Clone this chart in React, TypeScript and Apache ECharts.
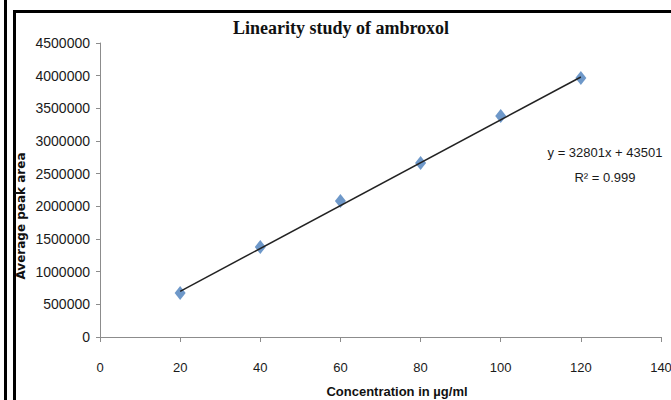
import React, { useEffect, useRef } from "react";
import * as echarts from "echarts";

const concentrations = [20, 40, 60, 80, 100, 120];
const peakAreas = [673000, 1378000, 2082000, 2663000, 3383000, 3964000];
const trendX = [20, 120];
const trendY = [699521, 3979621];
const titleText = "Linearity study of ambroxol";
const xAxisTitle = "Concentration in µg/ml";
const yAxisTitle = "Average peak area";
const equationText = "y = 32801x + 43501";
const r2Text = "R² = 0.999";

export default function App() {
  const ref = useRef<HTMLDivElement>(null);
  useEffect(() => {
    if (!ref.current) return;
    const chart = echarts.init(ref.current, null, { renderer: "svg" });
    chart.setOption({
      animation: false,
      backgroundColor: "#ffffff",
      title: {
        text: titleText,
        left: 336,
        top: 14,
        textAlign: "center",
        textStyle: {
          fontFamily: "Liberation Serif",
          fontWeight: "bold",
          fontSize: 18,
          color: "#111",
        },
      },
      grid: {
        left: 100,
        right: 10,
        top: 43,
        bottom: 63,
        containLabel: false,
        outerBoundsMode: "none",
      },
      xAxis: {
        type: "value",
        min: 0,
        max: 140,
        interval: 20,
        axisLine: { lineStyle: { color: "#8c8c8c", width: 1 } },
        axisTick: { show: true, length: 5, lineStyle: { color: "#8c8c8c" } },
        axisLabel: {
          margin: 24,
          fontFamily: "Liberation Sans",
          fontSize: 13,
          color: "#1a1a1a",
          showMaxLabel: true,
        },
        splitLine: { show: false },
      },
      yAxis: {
        type: "value",
        min: 0,
        max: 4500000,
        interval: 500000,
        axisLine: { show: true, lineStyle: { color: "#8c8c8c", width: 1 } },
        axisTick: { show: true, length: 4, lineStyle: { color: "#8c8c8c" } },
        axisLabel: {
          margin: 10,
          fontFamily: "Liberation Sans",
          fontSize: 14,
          color: "#1a1a1a",
          formatter: (v: number) => String(v),
        },
        splitLine: { show: false },
      },
      series: [
        {
          type: "line",
          data: trendX.map((x, i) => [x, trendY[i]]),
          symbol: "none",
          lineStyle: { color: "#222", width: 1.5 },
          silent: true,
          z: 3,
        },
        {
          type: "scatter",
          data: concentrations.map((x, i) => [x, peakAreas[i]]),
          symbol: "diamond",
          symbolSize: [11, 14],
          itemStyle: { color: "#4a7ebb" },
          z: 2,
        },
      ],
      graphic: [
        {
          type: "rect",
          shape: { x: 4, y: 0, width: 3, height: 400 },
          style: { fill: "#000" },
        },
        {
          type: "rect",
          shape: { x: 13, y: 10, width: 3, height: 390 },
          style: { fill: "#000" },
        },
        {
          type: "rect",
          shape: { x: 13, y: 10, width: 658, height: 3 },
          style: { fill: "#000" },
        },
        {
          type: "text",
          x: 397,
          y: 391,
          style: {
            text: xAxisTitle,
            fontFamily: "Liberation Sans",
            fontWeight: "bold",
            fontSize: 13,
            fill: "#111",
            align: "center",
            verticalAlign: "middle",
          },
        },
        {
          type: "text",
          x: 21,
          y: 216,
          rotation: Math.PI / 2,
          style: {
            text: yAxisTitle,
            fontFamily: "DejaVu Sans",
            fontWeight: "bold",
            fontSize: 12,
            fill: "#111",
            align: "center",
            verticalAlign: "middle",
          },
        },
        {
          type: "text",
          x: 605,
          y: 152,
          style: {
            text: equationText,
            fontFamily: "Liberation Sans",
            fontSize: 13,
            fill: "#1a1a1a",
            align: "center",
            verticalAlign: "middle",
          },
        },
        {
          type: "text",
          x: 605,
          y: 177,
          style: {
            text: r2Text,
            fontFamily: "Liberation Sans",
            fontSize: 13,
            fill: "#1a1a1a",
            align: "center",
            verticalAlign: "middle",
          },
        },
      ],
    });
    return () => chart.dispose();
  }, []);
  return (
    <div
      ref={ref}
      style={{ position: "fixed", left: 0, top: 0, width: 671, height: 400 }}
    />
  );
}
